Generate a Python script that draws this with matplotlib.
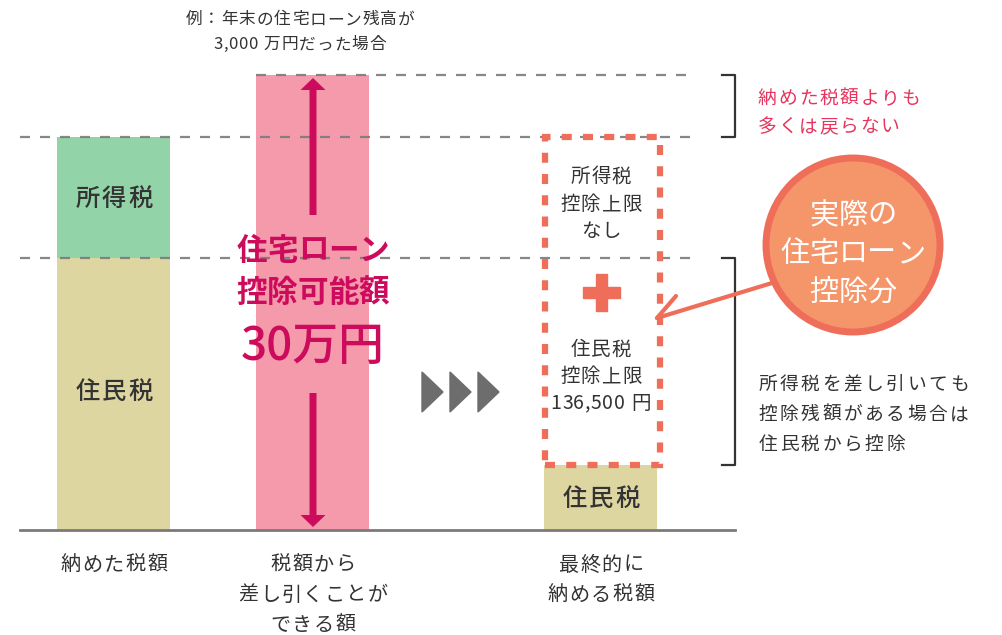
import matplotlib
matplotlib.use("Agg")
import matplotlib.pyplot as plt
from matplotlib.patches import Rectangle, Circle, Polygon

plt.rcParams["font.family"] = ["Noto Sans CJK JP", "DejaVu Sans"]

# relative heights (same scale for all bars)
resident_tax = 272
income_tax = 121
loan_deduction = 455
final_resident_tax = 65

bar_x = [114, 313, 601]
bar_width = 113
bottom_labels = [
    ["納めた税額"],
    ["税額から", "差し引くことが", "できる額"],
    ["最終的に", "納める税額"],
]

GREEN = "#93d3a8"
KHAKI = "#ddd6a1"
PINK = "#f49aaa"
MAGENTA = "#cc0b5c"
CORAL = "#ef6e5a"
ORANGE = "#f5966a"
DARK = "#333333"
GRAY = "#7a7a7a"


def char_width(c):
    if c in ", .":
        return 0.3
    if ord(c) < 0x2000:
        return 0.55
    return 1.0


def spaced(ax, x, y, s, pitch, fs, ha="center", **kw):
    # place characters one by one with a fixed pitch (letter-spaced look)
    widths = [char_width(c) for c in s]
    total = sum(widths) * pitch
    x0 = x - total / 2 if ha == "center" else x
    base = y - 0.38 * fs * 100 / 72
    for c, w in zip(s, widths):
        if c != " ":
            ax.text(x0 + w * pitch / 2, base, c, ha="center", va="baseline",
                    fontsize=fs, **kw)
        x0 += w * pitch


def main():
    fig = plt.figure(figsize=(10.03, 6.35), dpi=100)
    ax = fig.add_axes([0, 0, 1, 1])
    ax.set_xlim(0, 1003)
    ax.set_ylim(-105, 530)
    ax.axis("off")

    total_tax = resident_tax + income_tax

    # bars
    ax.bar(bar_x[0], resident_tax, width=bar_width, color=KHAKI, zorder=1)
    ax.bar(bar_x[0], income_tax, bottom=resident_tax, width=bar_width, color=GREEN, zorder=1)
    ax.bar(bar_x[1], loan_deduction, width=bar_width, color=PINK, zorder=1)
    ax.bar(bar_x[2], final_resident_tax, width=bar_width, color=KHAKI, zorder=1)

    # baseline and dashed guides
    ax.plot([20, 735], [0, 0], color=GRAY, lw=2, zorder=3)
    dash = dict(color=GRAY, lw=1.6, linestyle=(0, (4.5, 4.5)), alpha=0.9, zorder=2)
    ax.plot([256, 690], [loan_deduction] * 2, **dash)
    ax.plot([20, 690], [total_tax] * 2, **dash)
    ax.plot([20, 690], [resident_tax] * 2, **dash)

    # dotted box for deduction capacity
    box = Rectangle((545, final_resident_tax), 115, total_tax - final_resident_tax,
                    fill=False, edgecolor=CORAL, lw=4.5,
                    linestyle=(0, (1.6, 1.8)), zorder=4)
    ax.add_patch(box)

    # texts in bars
    lab = dict(color=DARK, fontweight="medium")
    spaced(ax, bar_x[0], 333, "所得税", 26.5, 17.5, **lab)
    spaced(ax, bar_x[0], 140, "住民税", 26.5, 17.5, **lab)
    spaced(ax, bar_x[2], 33, "住民税", 26.5, 17.5, **lab)

    pk = dict(color=MAGENTA, fontweight="bold", zorder=5)
    spaced(ax, bar_x[1], 282, "住宅ローン", 30.5, 22, **pk)
    spaced(ax, bar_x[1], 240, "控除可能額", 30.5, 22, **pk)
    ax.text(bar_x[1], 183, "30万円", ha="center", va="center", fontsize=33,
            color=MAGENTA, fontweight="medium", zorder=5)

    # arrows in pink bar
    ax.arrow(bar_x[1], 315, 0, loan_deduction - 3 - 315, width=7, head_width=25,
             head_length=12, length_includes_head=True, color=MAGENTA, lw=0, zorder=5)
    ax.arrow(bar_x[1], 137, 0, 3 - 137, width=7, head_width=25,
             head_length=12, length_includes_head=True, color=MAGENTA, lw=0, zorder=5)

    # triangles
    for x0 in [422, 450, 478]:
        ax.add_patch(Polygon([[x0, 158], [x0, 118], [x0 + 21, 138]],
                             closed=True, color="#6d6d6d", zorder=3))

    # box texts
    for y, s in zip([355, 327, 300], ["所得税", "控除上限", "なし"]):
        spaced(ax, bar_x[2], y, s, 20.7, 14, color=DARK)
    for y, s in zip([182, 155, 128], ["住民税", "控除上限", "136,500 円"]):
        spaced(ax, bar_x[2], y, s, 20.7, 14, color=DARK)

    # plus sign
    ax.add_patch(Rectangle((583, 232), 37, 11, color=CORAL, zorder=4))
    ax.add_patch(Rectangle((596, 219), 11, 37, color=CORAL, zorder=4))

    # brackets
    brk = dict(color=DARK, lw=1.6, zorder=3)
    ax.plot([722, 735, 735, 722], [loan_deduction, loan_deduction, total_tax, total_tax], **brk)
    ax.plot([722, 735, 735, 722], [resident_tax, resident_tax,
                                   final_resident_tax, final_resident_tax], **brk)

    # connector from circle to box
    ax.plot([657, 772], [212, 247], color=CORAL, lw=3, zorder=5, solid_capstyle="round")
    ax.plot([657, 676], [212, 234], color=CORAL, lw=3, zorder=5, solid_capstyle="round")

    # circle
    ax.add_patch(Circle((853, 285), 87, facecolor=ORANGE, edgecolor=CORAL, lw=5, zorder=6))
    for y, s in zip([317, 279, 240], ["実際の", "住宅ローン", "控除分"]):
        spaced(ax, 853, y, s, 29, 21, color="white", zorder=7)

    # right notes
    for y, s in zip([433, 405], ["納めた税額よりも", "多くは戻らない"]):
        spaced(ax, 757, y, s, 20.5, 13.5, ha="left", color="#e8345f")
    for y, s in zip([147, 117, 87], ["所得税を差し引いても", "控除残額がある場合は", "住民税から控除"]):
        spaced(ax, 757, y, s, 21.3, 13.5, ha="left", color=DARK)

    # top note
    spaced(ax, 300, 512, "例：年末の住宅ローン残高が", 17.7, 12, color=DARK)
    spaced(ax, 300, 487, "3,000 万円だった場合", 17.7, 12, color=DARK)

    # bottom labels
    for x, lines in zip(bar_x, bottom_labels):
        for i, s in enumerate(lines):
            spaced(ax, x, -33 - 30 * i, s, 21.6, 14.5, color=DARK)

    fig.savefig("out.png", dpi=100)


if __name__ == "__main__":
    main()
